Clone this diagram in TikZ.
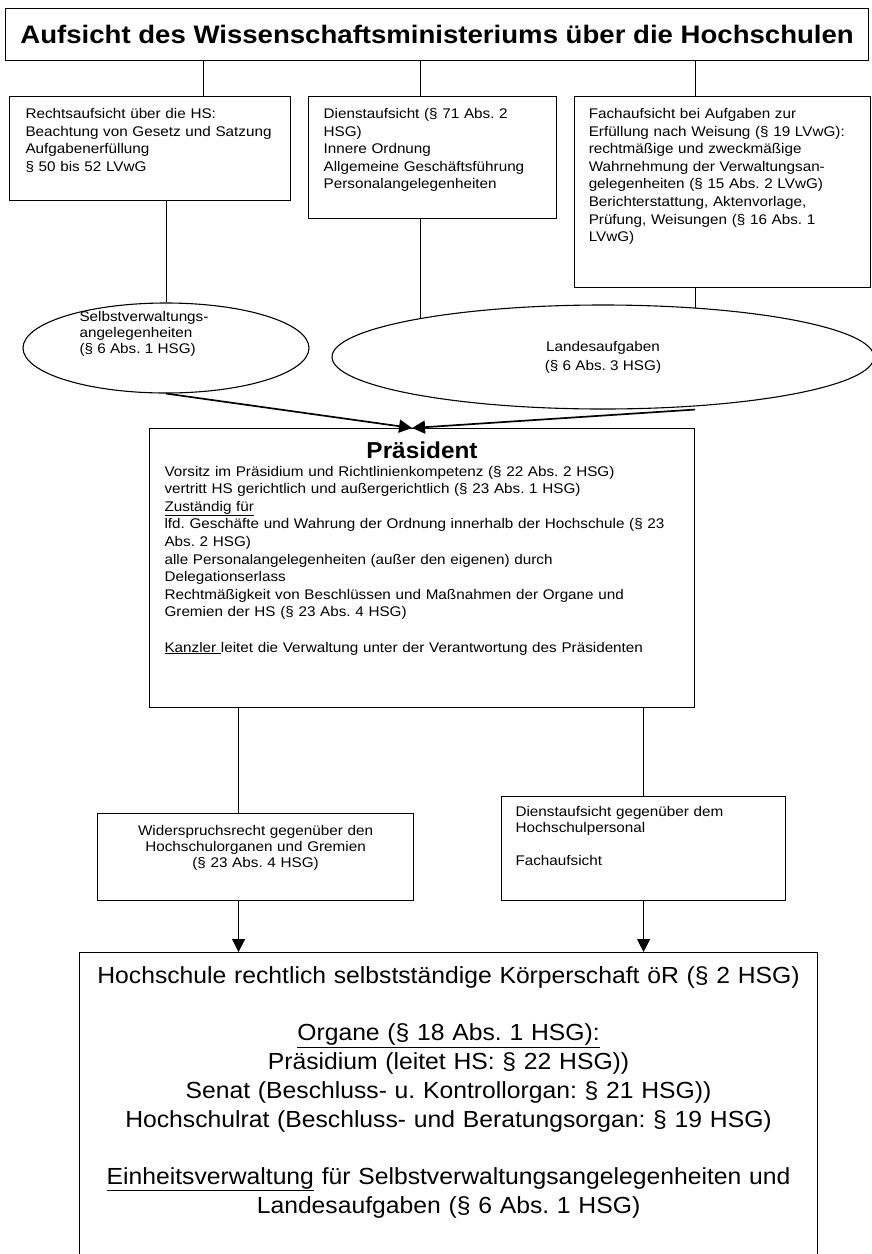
\documentclass[tikz,border=0pt]{standalone}
\usepackage{fontspec}
\setmainfont{Liberation Sans}[FakeStretch=1.06]
\newfontfamily\widefont{Liberation Sans}[FakeStretch=1.09]
\usetikzlibrary{positioning,shapes.geometric,arrows.meta}
\frenchspacing

\tikzset{
  titel/.style={draw, line width=1.3pt, anchor=north west, minimum width=863pt, minimum height=52pt,
    font=\widefont\bfseries\fontsize{25.3}{28}\selectfont},
  kasten/.style={draw, line width=1.1pt, anchor=north west, align=left, inner ysep=8pt, text height=14pt,
    font=\widefont\fontsize{14}{17.6}\selectfont},
  oval/.style={draw, ellipse, line width=1.1pt, inner sep=0pt, align=center,
    font=\widefont\fontsize{14}{19}\selectfont},
  linie/.style={line width=0.9pt},
  pfeil/.style={line width=1.7pt, ->},
}

\begin{document}
\begin{tikzpicture}[x=1pt, y=-1pt, >={Triangle[length=13pt,width=13pt]}]
        \useasboundingbox (0,0) rectangle (871,1254);

        %Nodes
        \node[titel] (aufsicht) at (5,8) {Aufsicht des Wissenschaftsministeriums über die Hochschulen};
        \node[kasten, text width=249pt, inner xsep=16pt, text depth=74pt] (recht) at (9,96)
            {Rechtsaufsicht über die HS:\\Beachtung von Gesetz und Satzung\\Aufgabenerfüllung\\§ 50 bis 52 LVwG};
        \node[kasten, text width=218pt, inner xsep=15pt, text depth=92pt, right=17pt of recht.north east, anchor=north west] (dienst)
            {Dienstaufsicht (§ 71 Abs. 2\\HSG)\\Innere Ordnung\\Allgemeine Geschäftsführung\\Personalangelegenheiten};
        \node[kasten, text width=268pt, inner xsep=14pt, text depth=161pt, right=17pt of dienst.north east, anchor=north west] (fach)
            {Fachaufsicht bei Aufgaben zur\\Erfüllung nach Weisung (§ 19 LVwG):\\rechtmäßige und zweckmäßige\\Wahrnehmung der Verwaltungsan-\\gelegenheiten (§ 15 Abs. 2 LVwG)\\Berichterstattung, Aktenvorlage,\\Prüfung, Weisungen (§ 16 Abs. 1\\LVwG)};

        \node[oval, minimum width=286pt, minimum height=90pt,
            label={[font=\widefont\fontsize{14}{16}\selectfont, align=left, xshift=-22pt, yshift=14pt]center:{Selbstverwaltungs-\\angelegenheiten\\(§ 6 Abs. 1 HSG)}}] (sv) at (166,348) {};
        \node[oval, minimum width=542pt, minimum height=104pt] (la) at (603,357) {Landesaufgaben\\(§ 6 Abs. 3 HSG)};

        \node[kasten, text width=515pt, inner xsep=15pt, inner ysep=6pt, text height=24pt, text depth=243pt] (praes) at (149,428)
            {{\centering\rmfamily\bfseries\fontsize{23}{24}\selectfont Präsident\par}
            Vorsitz im Präsidium und Richtlinienkompetenz (§ 22 Abs. 2 HSG)\\
            vertritt HS gerichtlich und außergerichtlich (§ 23 Abs. 1 HSG)\\
            \underline{Zuständig für}\\
            lfd. Geschäfte und Wahrung der Ordnung innerhalb der Hochschule (§ 23\\
            Abs. 2 HSG)\\
            alle Personalangelegenheiten (außer den eigenen) durch\\
            Delegationserlass\\
            Rechtmäßigkeit von Beschlüssen und Maßnahmen der Organe und\\
            Gremien der HS (§ 23 Abs. 4 HSG)\\[17.6pt]
            \underline{Kanzler\ }leitet die Verwaltung unter der Verantwortung des Präsidenten};

        \node[kasten, align=center, text width=300pt, inner xsep=8pt, inner ysep=6pt, text height=16pt, text depth=59pt,
            font=\widefont\fontsize{14}{16}\selectfont] (wider) at (97,813)
            {Widerspruchsrecht gegenüber den\\Hochschulorganen und Gremien\\(§ 23 Abs. 4 HSG)};
        \node[kasten, text width=256pt, inner xsep=14pt, inner ysep=6pt, text depth=78pt,
            font=\widefont\fontsize{14}{16.4}\selectfont] (dienstb) at (501,796)
            {Dienstaufsicht gegenüber dem\\Hochschulpersonal\\[16.4pt]Fachaufsicht};

        \node[kasten, align=center, text width=722pt, inner xsep=8pt, inner ysep=4pt, text height=27pt, text depth=285pt,
            font=\rmfamily\fontsize{23.3}{28.7}\selectfont] (hs) at (79,952)
            {Hochschule rechtlich selbstständige Körperschaft öR (§ 2 HSG)\\[28.7pt]
            \underline{Organe (§ 18 Abs. 1 HSG):}\\
            Präsidium (leitet HS: § 22 HSG))\\
            Senat (Beschluss- u. Kontrollorgan: § 21 HSG))\\
            Hochschulrat (Beschluss- und Beratungsorgan: § 19 HSG)\\[28.7pt]
            \underline{Einheitsverwaltung} für Selbstverwaltungsangelegenheiten und\\
            Landesaufgaben (§ 6 Abs. 1 HSG)};

        \coordinate (r1) at ([xshift=53.5pt]recht.north);
        \coordinate (spitze) at ([xshift=-10pt]praes.north);
        \coordinate (wl) at ([xshift=-17pt]wider.north);

        %Lines
        \draw[linie] (r1 |- aufsicht.south) -- (r1);
        \draw[linie] (la.168 |- aufsicht.south) -- (la.168 |- dienst.north);
        \draw[linie] (la.28 |- aufsicht.south) -- (la.28 |- fach.north);
        \draw[linie] (recht.south -| sv.north) -- (sv.north);
        \draw[linie] (la.168 |- dienst.south) -- (la.168);
        \draw[linie] (la.28 |- fach.south) -- (la.28);

        \draw[pfeil] (sv.south) -- (spitze);
        \draw[pfeil] (la.south -| praes.north east) -- (spitze);

        \draw[linie] (wl |- praes.south) -- (wl);
        \draw[linie] (dienstb.north |- praes.south) -- (dienstb.north);
        \draw[pfeil, line width=1.3pt] (wl |- wider.south) -- (wl |- hs.north);
        \draw[pfeil, line width=1.3pt] (dienstb.south) -- (dienstb.south |- hs.north);

\end{tikzpicture}
\end{document}
